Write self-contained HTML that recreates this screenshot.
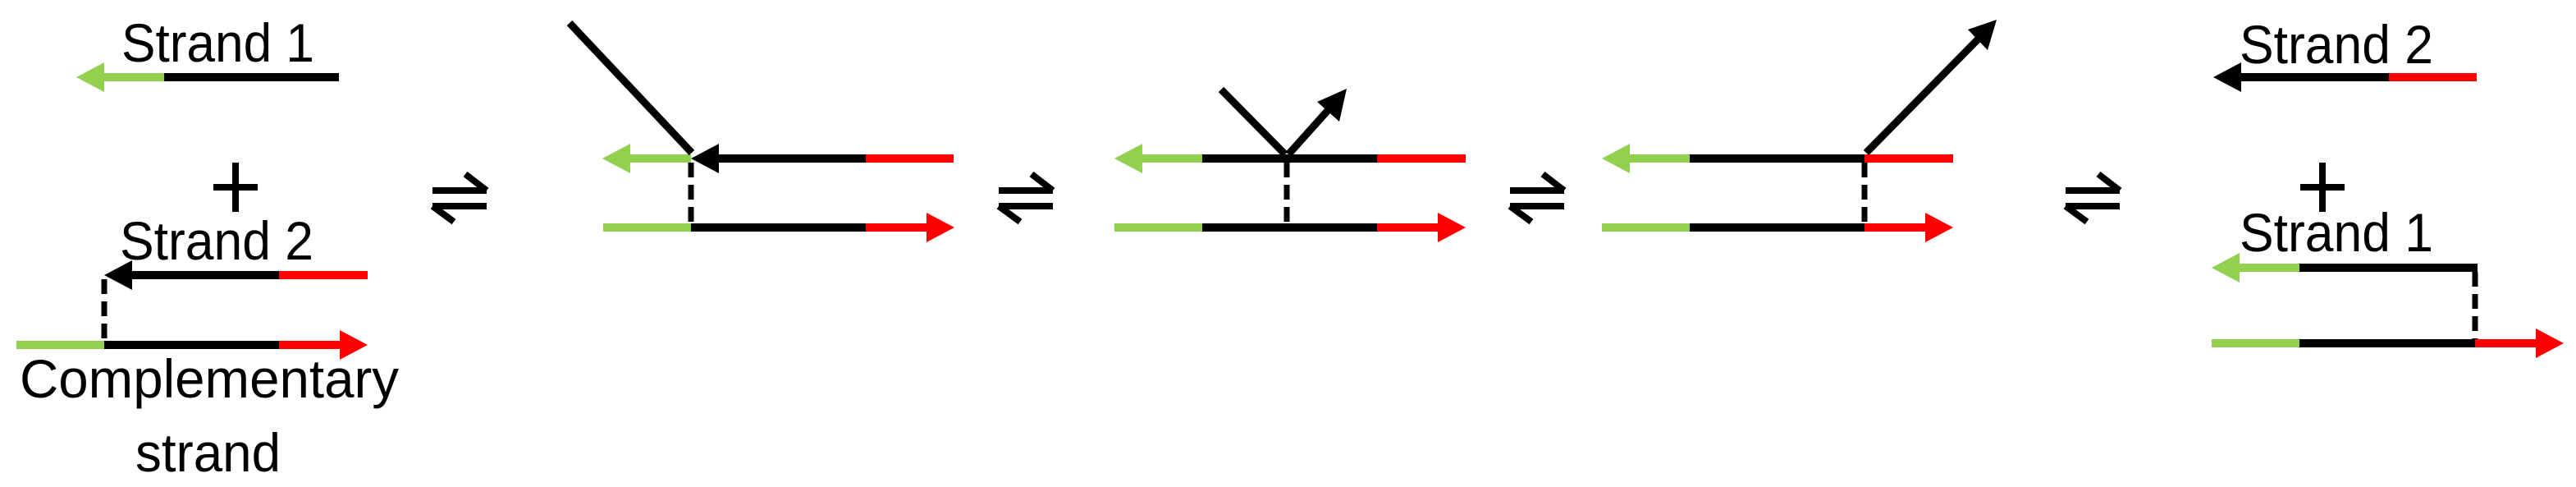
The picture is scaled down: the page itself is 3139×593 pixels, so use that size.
<!DOCTYPE html>
<html><head><meta charset="utf-8"><style>html,body{margin:0;padding:0;background:#fff;}svg{display:block}</style></head>
<body>
<svg width="3139" height="593" viewBox="0 0 3139 593" xmlns="http://www.w3.org/2000/svg" font-family="'Liberation Sans', sans-serif">
<defs>
<g id="eq" stroke="#000" stroke-width="8" fill="none">
  <line x1="0" y1="20" x2="66" y2="20"/>
  <line x1="66" y1="20" x2="40" y2="0"/>
  <line x1="0" y1="39" x2="66" y2="39"/>
  <line x1="0" y1="39" x2="26" y2="58"/>
</g>
</defs>
<g font-size="66" fill="#000">
  <text x="148" y="75" textLength="235" lengthAdjust="spacingAndGlyphs">Strand 1</text>
  <text x="146" y="316" textLength="236" lengthAdjust="spacingAndGlyphs">Strand 2</text>
  <text x="24" y="484" textLength="462" lengthAdjust="spacingAndGlyphs">Complementary</text>
  <text x="165" y="574" textLength="177" lengthAdjust="spacingAndGlyphs">strand</text>
  <text x="2729" y="77" textLength="236" lengthAdjust="spacingAndGlyphs">Strand 2</text>
  <text x="2729" y="306" textLength="236" lengthAdjust="spacingAndGlyphs">Strand 1</text>
</g>
<!-- plus signs -->
<g stroke="#000" stroke-width="8">
  <line x1="260" y1="228" x2="314" y2="228"/><line x1="287" y1="198" x2="287" y2="258"/>
  <line x1="2803" y1="228" x2="2857" y2="228"/><line x1="2830" y1="198" x2="2830" y2="258"/>
</g>
<!-- eq signs -->
<use href="#eq" x="527" y="212"/>
<use href="#eq" x="1217" y="212"/>
<use href="#eq" x="1840" y="212"/>
<use href="#eq" x="2517" y="212"/>

<g stroke-width="10">
<!-- Panel 1 -->
<line x1="120" y1="94" x2="200" y2="94" stroke="#92d050"/>
<line x1="200" y1="94" x2="413" y2="94" stroke="#000"/>
<polygon points="93,94 127,76 127,112" fill="#92d050"/>
<line x1="155" y1="335" x2="340" y2="335" stroke="#000"/>
<line x1="340" y1="335" x2="448" y2="335" stroke="#f00"/>
<polygon points="127,335 161,317 161,353" fill="#000"/>
<line x1="20" y1="420" x2="127" y2="420" stroke="#92d050"/>
<line x1="127" y1="420" x2="340" y2="420" stroke="#000"/>
<line x1="340" y1="420" x2="418" y2="420" stroke="#f00"/>
<polygon points="448,420 414,402 414,438" fill="#f00"/>

<!-- Panel 2 -->
<line x1="762" y1="193" x2="842" y2="193" stroke="#92d050"/>
<polygon points="734,193 768,175 768,211" fill="#92d050"/>
<line x1="870" y1="193" x2="1055" y2="193" stroke="#000"/>
<line x1="1055" y1="193" x2="1162" y2="193" stroke="#f00"/>
<polygon points="842,193 876,175 876,211" fill="#000"/>
<line x1="735" y1="277" x2="842" y2="277" stroke="#92d050"/>
<line x1="842" y1="277" x2="1055" y2="277" stroke="#000"/>
<line x1="1055" y1="277" x2="1132" y2="277" stroke="#f00"/>
<polygon points="1163,277 1129,259 1129,295" fill="#f00"/>

<!-- Panel 3 -->
<line x1="1385" y1="193" x2="1465" y2="193" stroke="#92d050"/>
<polygon points="1358,193 1392,175 1392,211" fill="#92d050"/>
<line x1="1465" y1="193" x2="1678" y2="193" stroke="#000"/>
<line x1="1678" y1="193" x2="1786" y2="193" stroke="#f00"/>
<line x1="1358" y1="277" x2="1465" y2="277" stroke="#92d050"/>
<line x1="1465" y1="277" x2="1678" y2="277" stroke="#000"/>
<line x1="1678" y1="277" x2="1756" y2="277" stroke="#f00"/>
<polygon points="1786,277 1752,259 1752,295" fill="#f00"/>

<!-- Panel 4 -->
<line x1="1980" y1="193" x2="2059" y2="193" stroke="#92d050"/>
<polygon points="1952,193 1986,175 1986,211" fill="#92d050"/>
<line x1="2059" y1="193" x2="2272" y2="193" stroke="#000"/>
<line x1="2272" y1="193" x2="2380" y2="193" stroke="#f00"/>
<line x1="1952" y1="277" x2="2059" y2="277" stroke="#92d050"/>
<line x1="2059" y1="277" x2="2272" y2="277" stroke="#000"/>
<line x1="2272" y1="277" x2="2350" y2="277" stroke="#f00"/>
<polygon points="2380,277 2346,259 2346,295" fill="#f00"/>

<!-- Panel 5 -->
<line x1="2725" y1="94" x2="2911" y2="94" stroke="#000"/>
<line x1="2911" y1="94" x2="3018" y2="94" stroke="#f00"/>
<polygon points="2697,94 2731,76 2731,112" fill="#000"/>
<line x1="2722" y1="326" x2="2802" y2="326" stroke="#92d050"/>
<polygon points="2695,326 2729,308 2729,344" fill="#92d050"/>
<line x1="2802" y1="326" x2="3019" y2="326" stroke="#000"/>
<line x1="2695" y1="418" x2="2802" y2="418" stroke="#92d050"/>
<line x1="2802" y1="418" x2="3016" y2="418" stroke="#000"/>
<line x1="3016" y1="418" x2="3093" y2="418" stroke="#f00"/>
<polygon points="3124,418 3090,400 3090,436" fill="#f00"/>
</g>

<!-- dashed connectors -->
<g stroke="#000" stroke-width="7" stroke-dasharray="18,9">
  <line x1="127" y1="340" x2="127" y2="415"/>
  <line x1="842" y1="198" x2="842" y2="272"/>
  <line x1="1568" y1="198" x2="1568" y2="272"/>
  <line x1="2272" y1="198" x2="2272" y2="272"/>
  <line x1="3016" y1="331" x2="3016" y2="413"/>
</g>

<!-- diagonal strands -->
<g stroke="#000" stroke-width="9" fill="none">
  <line x1="694" y1="28" x2="843" y2="186"/>
  <line x1="1488" y1="109" x2="1566" y2="188"/>
  <line x1="1570" y1="188" x2="1622" y2="130"/>
  <line x1="2274" y1="186" x2="2414" y2="44"/>
</g>
<polygon points="1641,108 1605,124 1632,148" fill="#000"/>
<polygon points="2433,24 2398,36 2422,61" fill="#000"/>
</svg>
</body></html>
